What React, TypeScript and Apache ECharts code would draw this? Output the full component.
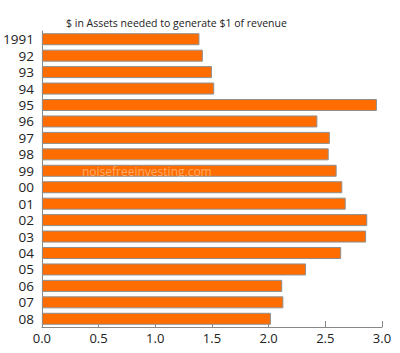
import React, { useEffect, useRef } from "react";
import * as echarts from "echarts";

const categories = ["1991", "92", "93", "94", "95", "96", "97", "98", "99", "00", "01", "02", "03", "04", "05", "06", "07", "08"];
const values = [1.39, 1.42, 1.5, 1.52, 2.955, 2.43, 2.54, 2.53, 2.6, 2.65, 2.68, 2.87, 2.86, 2.64, 2.33, 2.12, 2.13, 2.02];
const titleText = "$ in Assets needed to generate $1 of revenue";
const watermark = "noisefreeinvesting.com";

export default function App() {
  const ref = useRef<HTMLDivElement>(null);
  useEffect(() => {
    if (!ref.current) return;
    const chart = echarts.init(ref.current, undefined, { renderer: "svg" });
    const font = "'Open Sans', sans-serif";
    chart.setOption({
      animation: false,
      backgroundColor: "#ffffff",
      title: {
        text: titleText,
        left: 61,
        top: 12,
        textStyle: { fontFamily: font, fontSize: 10.5, fontWeight: "normal", color: "#222" },
      },
      grid: { left: 41, right: 18, top: 31, bottom: 26, containLabel: false },
      xAxis: {
        type: "value",
        min: 0,
        max: 3,
        interval: 0.5,
        axisLine: { show: true, lineStyle: { color: "#888", width: 1 } },
        axisTick: { show: true, inside: true, length: 6, lineStyle: { color: "#888" } },
        splitLine: { show: false },
        axisLabel: {
          fontFamily: font,
          fontSize: 13,
          color: "#222",
          margin: 4,
          formatter: (v: number) => v.toFixed(1),
        },
      },
      yAxis: {
        type: "category",
        data: categories,
        inverse: true,
        axisLine: { show: true, lineStyle: { color: "#888", width: 1 } },
        axisTick: { show: false },
        axisLabel: { fontFamily: font, fontSize: 13.5, color: "#222", margin: 8, interval: 0 },
      },
      series: [
        {
          type: "bar",
          data: values,
          barCategoryGap: "27%",
          itemStyle: { color: "#ff6d00", borderColor: "#8f8f8f", borderWidth: 1 },
        },
      ],
      graphic: [
        {
          type: "text",
          left: 82,
          top: 165,
          z: 100,
          style: {
            text: watermark,
            fontFamily: font,
            fontSize: 12,
            fill: "rgba(255,255,255,0.42)",
          },
        },
      ],
    });
    return () => chart.dispose();
  }, []);
  return (
    <div ref={ref} style={{ position: "absolute", left: 0, top: 0, width: 400, height: 353 }} />
  );
}
